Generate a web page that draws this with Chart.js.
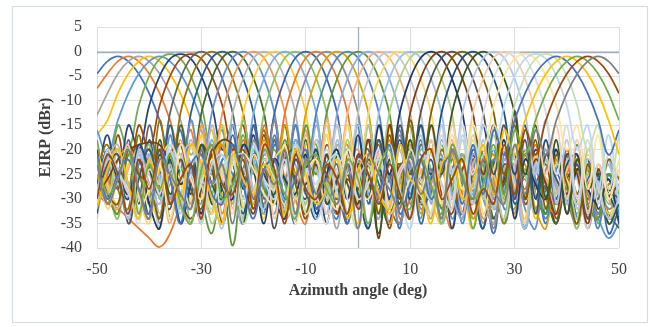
<!DOCTYPE html>
<html>
<head>
<meta charset="utf-8">
<script src="https://cdn.jsdelivr.net/npm/chart.js@4"></script>
<style>
  html, body { margin: 0; padding: 0; background: #fff; }
  #wrap { width: 652px; height: 327px; }
</style>
</head>
<body>
<div id="wrap"><canvas id="myChart" width="652" height="327"></canvas></div>
<script>
// Azimuth sample points (deg)
var angles = [-50,-48,-46,-44,-42,-40,-38,-36,-34,-32,-30,-28,-26,-24,-22,-20,-18,-16,-14,-12,-10,-8,-6,-4,-2,0,2,4,6,8,10,12,14,16,18,20,22,24,26,28,30,32,34,36,38,40,42,44,46,48,50];
var xTicks = [-50, -30, -10, 10, 30, 50];

// EIRP (dBr) of each steered beam
var b00 = [-4.5,-2,-1,-2,-4.5,-8.5,-14,-21,-16,-29,-19,-31,-22,-21,-30,-24,-33,-19,-26,-35,-22,-20,-29,-34,-23,-27,-18,-31,-25,-36,-21,-24,-30,-20,-28,-33,-22,-26,-37,-24,-23,-31,-27,-35,-25,-29,-22,-34,-30,-26,-32];
var b01 = [-7.5,-4.5,-2,-1,-2,-4.5,-8.5,-14,-21,-16,-29,-19,-33,-20,-26,-23,-31,-18,-22,-30,-35,-21,-27,-24,-19,-32,-25,-28,-21,-34,-30,-23,-20,-29,-36,-24,-27,-22,-31,-25,-33,-21,-28,-26,-35,-23,-30,-27,-24,-34,-29];
var b02 = [-13,-8.5,-4.5,-2,-1,-2,-4.5,-8.5,-14,-21,-16,-29,-19,-30,-24,-19,-27,-33,-21,-23,-31,-20,-26,-36,-22,-29,-18,-25,-32,-28,-21,-24,-34,-20,-27,-30,-23,-35,-22,-26,-29,-24,-33,-21,-28,-31,-25,-36,-27,-23,-30];
var b03 = [-17,-14,-8.5,-4.5,-2,-1,-2,-4.5,-8.5,-14,-21,-16,-29,-19,-32,-22,-20,-28,-25,-34,-19,-24,-30,-21,-27,-35,-23,-18,-26,-31,-22,-29,-33,-20,-25,-28,-36,-24,-21,-30,-27,-23,-34,-26,-29,-22,-32,-28,-25,-35,-31];
var b04 = [-16,-21,-14,-8.5,-4.5,-2,-1,-2,-4.5,-8.5,-14,-21,-16,-29,-19,-31,-21,-25,-29,-19,-23,-33,-27,-20,-30,-24,-36,-22,-26,-28,-19,-32,-25,-21,-34,-27,-23,-30,-35,-22,-26,-29,-24,-33,-21,-27,-31,-30,-34,-38,-35];
var b05 = [-18,-28,-15,-20,-11,-5,-1.5,-0.5,-1.5,-5,-11,-20,-15,-28,-17,-30,-24,-20,-27,-33,-21,-19,-29,-25,-35,-22,-28,-18,-31,-26,-23,-34,-20,-27,-30,-22,-36,-25,-21,-29,-32,-24,-28,-20,-33,-26,-30,-23,-35,-27,-29];
var b06 = [-27,-17,-28,-15,-20,-11,-5,-1.5,-0.5,-1.5,-5,-11,-20,-15,-28,-17,-32,-22,-19,-26,-30,-23,-35,-21,-25,-28,-18,-24,-33,-27,-20,-31,-29,-22,-36,-24,-21,-28,-34,-26,-23,-30,-20,-27,-35,-25,-29,-22,-32,-28,-33];
var b07 = [-21,-30,-17,-28,-15,-20,-11,-5,-1.5,-0.5,-1.5,-5,-11,-20,-15,-28,-17,-31,-20,-25,-34,-22,-28,-19,-24,-32,-27,-21,-36,-23,-26,-30,-20,-29,-33,-24,-22,-28,-35,-25,-21,-31,-27,-23,-34,-26,-30,-22,-29,-33,-31];
var b08 = [-20,-26,-32,-18,-30,-15,-25,-12.5,-5.5,-1.3,0,-1.3,-5.5,-12.5,-25,-15,-30,-18,-33,-21,-24,-29,-19,-27,-35,-22,-20,-30,-26,-23,-34,-19,-28,-31,-24,-21,-27,-36,-22,-25,-30,-20,-29,-33,-23,-27,-21,-32,-28,-25,-31];
var b09 = [-24,-19,-28,-32,-17,-31,-14,-26,-12.5,-5.5,-1.3,0,-1.3,-5.5,-12.5,-24,-16,-29,-19,-30,-25,-20,-23,-33,-21,-28,-26,-19,-31,-35,-22,-24,-29,-20,-27,-34,-23,-21,-30,-25,-28,-36,-22,-26,-31,-20,-29,-24,-33,-27,-30];
var b10 = [-27,-20,-24,-19,-31,-18,-29,-15,-26,-12.5,-5.5,-1.3,0,-1.3,-5.5,-12.5,-25,-14,-31,-18,-28,-34,-21,-25,-20,-30,-23,-27,-35,-19,-24,-29,-22,-32,-26,-21,-28,-36,-23,-20,-31,-25,-27,-33,-22,-29,-24,-30,-26,-34,-31];
var b11 = [-22,-30,-26,-19,-24,-33,-18,-30,-15,-25,-12.5,-5.5,-1.3,0,-1.3,-5.5,-12.5,-25,-15,-30,-18,-32,-23,-20,-27,-31,-22,-29,-35,-24,-21,-26,-30,-19,-28,-33,-25,-22,-34,-27,-23,-30,-21,-29,-35,-26,-24,-31,-28,-33,-36];
var b12 = [-31,-25,-21,-28,-20,-23,-34,-17,-30,-14,-25,-12.5,-5.5,-1.3,0,-1.3,-5.5,-12.5,-26,-15,-29,-18,-27,-33,-22,-24,-30,-20,-26,-35,-23,-21,-29,-31,-19,-25,-34,-27,-22,-28,-24,-32,-36,-21,-26,-30,-23,-29,-33,-25,-31];
var b13 = [-21,-26,-33,-20,-24,-29,-22,-31,-18,-31,-15,-25,-12.5,-5.5,-1.3,0,-1.3,-5.5,-12.5,-25,-16,-30,-17,-33,-24,-20,-28,-22,-35,-26,-19,-30,-27,-23,-32,-21,-25,-34,-29,-22,-27,-36,-24,-20,-31,-28,-25,-33,-23,-30,-34];
var b14 = [-28,-22,-19,-30,-25,-21,-33,-23,-29,-18,-30,-15,-25,-12.5,-5.5,-1.3,0,-1.3,-5.5,-12.5,-25,-14,-31,-19,-30,-21,-26,-34,-23,-20,-29,-27,-33,-22,-25,-31,-19,-28,-35,-24,-22,-30,-26,-32,-21,-27,-36,-25,-29,-23,-33];
var b15 = [-20,-27,-31,-23,-21,-29,-34,-22,-26,-32,-17,-29,-15,-26,-12.5,-5.5,-1.3,0,-1.3,-5.5,-12.5,-25,-15,-30,-18,-31,-25,-21,-33,-28,-20,-24,-30,-35,-22,-27,-19,-29,-32,-23,-26,-34,-21,-28,-30,-24,-22,-31,-27,-33,-29];
var b16 = [-32,-24,-20,-27,-33,-21,-25,-30,-19,-23,-31,-18,-30,-15,-25,-12.5,-5.5,-1.3,0,-1.3,-5.5,-12.5,-25,-15,-30,-18,-29,-34,-22,-20,-27,-31,-24,-35,-21,-26,-29,-19,-32,-28,-23,-36,-25,-22,-30,-27,-33,-24,-29,-35,-33];
var b17 = [-23,-28,-34,-21,-25,-19,-30,-27,-22,-35,-24,-29,-18,-31,-14,-25,-12.5,-5.5,-1.3,0,-1.3,-5.5,-12.5,-26,-15,-29,-18,-33,-22,-26,-30,-20,-24,-35,-28,-21,-31,-23,-27,-34,-19,-25,-29,-32,-22,-28,-36,-24,-26,-31,-29];
var b18 = [-29,-21,-25,-33,-20,-27,-31,-23,-19,-28,-34,-22,-30,-17,-30,-15,-25,-12.5,-5.5,-1.3,0,-1.3,-5.5,-12.5,-25,-15,-31,-18,-30,-24,-21,-35,-26,-22,-29,-33,-20,-27,-31,-23,-25,-36,-22,-28,-30,-21,-34,-26,-24,-37,-32];
var b19 = [-29,-31,-32,-34,-36,-38,-39.8,-37,-31,-26,-21,-25,-19,-32,-18,-30,-15,-25,-12.5,-5.5,-1.3,0,-1.3,-5.5,-12.5,-25,-15,-30,-18,-32,-21,-27,-24,-34,-20,-29,-31,-22,-26,-35,-23,-28,-19,-30,-33,-25,-22,-29,-34,-27,-31];
var b20 = [-33,-24,-20,-27,-30,-22,-35,-25,-21,-29,-26,-19,-31,-23,-34,-18,-29,-14,-26,-12.5,-5.5,-1.3,0,-1.3,-5.5,-12.5,-25,-15,-30,-17,-31,-22,-28,-25,-20,-33,-27,-23,-36,-21,-29,-26,-32,-24,-20,-30,-35,-23,-27,-32,-30];
var b21 = [-25,-31,-22,-20,-28,-33,-24,-21,-30,-27,-35,-22,-19,-29,-26,-31,-18,-30,-15,-25,-12.5,-5.5,-1.3,0,-1.3,-5.5,-12.5,-25,-15,-30,-18,-33,-20,-24,-29,-22,-34,-27,-21,-30,-25,-23,-32,-36,-22,-28,-24,-31,-26,-29,-27];
var b22 = [-30,-21,-26,-34,-23,-20,-29,-31,-24,-19,-27,-33,-22,-25,-30,-20,-32,-17,-31,-15,-25,-12.5,-5.5,-1.3,0,-1.3,-5.5,-12.5,-25,-16,-29,-18,-30,-25,-21,-35,-23,-27,-20,-32,-29,-22,-26,-34,-24,-21,-31,-28,-36,-25,-33];
var b23 = [-22,-29,-33,-21,-25,-30,-20,-34,-26,-23,-30,-37,-27,-39.5,-24,-20,-28,-31,-18,-30,-15,-25,-12.5,-5.5,-1.3,0,-1.3,-5.5,-12.5,-25,-15,-30,-18,-32,-22,-27,-30,-20,-24,-35,-26,-21,-29,-33,-23,-28,-19,-31,-34,-25,-29];
var b24 = [-31,-23,-20,-28,-34,-22,-26,-30,-19,-24,-33,-27,-21,-29,-35,-23,-20,-27,-32,-18,-29,-15,-26,-12.5,-5.5,-1.3,0,-1.3,-5.5,-12.5,-24,-15,-31,-18,-29,-34,-21,-25,-30,-22,-28,-36,-24,-20,-27,-31,-23,-33,-26,-22,-31];
var b25 = [-21,-28,-32,-24,-20,-30,-26,-35,-22,-19,-29,-33,-23,-27,-21,-31,-25,-22,-34,-30,-17,-30,-14,-25,-12.5,-5.5,-1.3,0,-1.3,-5.5,-12.5,-25,-15,-30,-18,-33,-23,-20,-28,-31,-24,-35,-21,-26,-29,-22,-30,-34,-25,-28,-26];
var b26 = [-34,-22,-27,-20,-30,-25,-36,-23,-21,-29,-32,-20,-26,-33,-24,-28,-19,-30,-23,-27,-31,-18,-30,-15,-25,-12.5,-5.5,-1.3,0,-1.3,-5.5,-12.5,-25,-15,-30,-18,-31,-21,-25,-34,-23,-20,-29,-27,-33,-22,-26,-36,-24,-30,-28];
var b27 = [-21,-32,-26,-20,-29,-35,-23,-19,-27,-30,-22,-33,-25,-21,-31,-28,-34,-22,-20,-29,-24,-31,-17,-30,-15,-26,-12.5,-5.5,-1.3,0,-1.3,-5.5,-12.5,-25,-14,-31,-18,-33,-24,-20,-27,-35,-22,-29,-23,-26,-31,-21,-28,-34,-27];
var b28 = [-28,-22,-25,-33,-21,-30,-27,-19,-29,-35,-24,-22,-31,-26,-34,-20,-23,-29,-32,-21,-27,-24,-33,-18,-30,-15,-25,-12.5,-5.5,-1.3,0,-1.3,-5.5,-12.5,-25,-15,-30,-18,-32,-20,-26,-36,-23,-29,-21,-31,-25,-34,-27,-23,-32];
var b29 = [-23,-30,-20,-27,-34,-22,-29,-25,-32,-19,-24,-35,-28,-21,-30,-23,-33,-26,-20,-29,-31,-22,-27,-30,-18,-31,-15,-25,-12.5,-5.5,-1.3,0,-1.3,-5.5,-12.5,-26,-15,-30,-17,-31,-21,-25,-33,-22,-29,-27,-34,-20,-26,-30,-28];
var b30 = [-32,-20,-25,-29,-22,-31,-36,-21,-27,-23,-33,-20,-28,-30,-19,-24,-35,-22,-26,-29,-21,-33,-25,-20,-30,-17,-30,-15,-25,-12.5,-5.5,-1.3,0,-1.3,-5.5,-12.5,-25,-15,-29,-18,-34,-22,-27,-30,-20,-33,-24,-28,-31,-26,-35];
var b31 = [-29,-26,-22,-20,-19,-18.5,-19,-23,-30,-34,-28,-21,-18,-19,-25,-33,-22,-27,-31,-20,-24,-29,-21,-33,-26,-31,-18,-38,-15,-25,-12.5,-5.5,-1.3,0,-1.3,-5.5,-12.5,-25,-15,-29,-12,-30,-22,-27,-33,-21,-25,-35,-24,-29,-27];
var b32 = [-30,-23,-21,-35,-26,-20,-28,-32,-22,-29,-19,-24,-34,-27,-21,-30,-25,-36,-22,-20,-29,-31,-23,-27,-33,-21,-30,-18,-30,-15,-25,-12.5,-5.5,-1.3,0,-1.3,-5.5,-12.5,-25,-15,-30,-18,-33,-21,-26,-29,-23,-34,-25,-28,-30];
var b33 = [-22,-29,-31,-20,-25,-27,-34,-21,-19,-28,-32,-23,-35,-26,-20,-29,-24,-31,-19,-27,-33,-22,-25,-30,-21,-28,-23,-33,-17,-30,-14,-26,-12.5,-5.5,-1.3,0,-1.3,-5.5,-12.5,-25,-15,-30,-18,-32,-21,-27,-35,-23,-30,-22,-26];
var b34 = [-33,-21,-26,-30,-19,-24,-29,-22,-35,-27,-20,-31,-28,-23,-33,-21,-25,-30,-34,-22,-27,-20,-31,-26,-23,-29,-36,-24,-30,-18,-30,-15,-25,-12.5,-5.5,-1.3,0,-1.3,-5.5,-12.5,-25,-15,-30,-18,-31,-23,-21,-33,-26,-29,-34];
var b35 = [-20,-31,-25,-22,-28,-34,-21,-29,-24,-32,-19,-27,-30,-23,-35,-21,-26,-29,-20,-33,-24,-22,-31,-28,-34,-23,-26,-37,-22,-31,-18,-30,-15,-25,-12.5,-5.5,-1.3,0,-1.3,-5.5,-12.5,-25,-15,-30,-18,-33,-22,-28,-25,-35,-31];
var b36 = [-29,-22,-24,-34,-20,-27,-31,-23,-33,-19,-26,-29,-36,-22,-21,-28,-32,-25,-30,-19,-24,-34,-28,-21,-33,-26,-23,-29,-31,-20,-28,-17,-30,-15,-25,-12.5,-5.5,-1.3,0,-1.3,-5.5,-12.5,-25,-14,-31,-18,-32,-22,-27,-34,-30];
var b37 = [-21,-30,-26,-19,-33,-24,-28,-20,-31,-35,-22,-27,-25,-32,-21,-29,-19,-34,-23,-30,-26,-22,-33,-28,-20,-25,-35,-21,-31,-24,-22,-29,-18,-30,-15,-25,-12.5,-5.5,-1.3,0,-1.3,-5.5,-12.5,-25,-15,-30,-18,-33,-23,-29,-24];
var b38 = [-31,-20,-25,-28,-35,-22,-29,-19,-24,-32,-27,-20,-34,-23,-30,-21,-26,-28,-19,-33,-22,-29,-35,-24,-21,-30,-27,-20,-32,-25,-22,-29,-33,-17,-31,-15,-25,-12.5,-5.5,-1.3,0,-1.3,-5.5,-12.5,-25,-15,-30,-18,-31,-21,-28];
var b39 = [-22,-29,-25,-20,-32,-28,-23,-34,-19,-26,-30,-22,-27,-33,-21,-24,-29,-31,-19,-35,-25,-22,-28,-32,-20,-27,-30,-23,-21,-33,-26,-29,-20,-31,-17,-28,-15,-20,-11,-5,-1.5,-0.5,-1.5,-5,-11,-20,-15,-28,-17,-30,-22];
var b40 = [-30,-21,-24,-29,-33,-22,-27,-20,-31,-25,-35,-23,-21,-28,-32,-19,-26,-30,-22,-34,-24,-27,-20,-29,-33,-22,-25,-31,-19,-28,-36,-23,-21,-27,-32,-17,-28,-15,-20,-11,-5,-1.5,-0.5,-1.5,-5,-11,-20,-15,-28,-17,-31];
var b41 = [-23,-31,-26,-20,-28,-34,-22,-25,-30,-19,-27,-32,-24,-21,-35,-29,-22,-26,-31,-19,-33,-28,-23,-21,-30,-36,-25,-22,-28,-32,-20,-26,-30,-19,-24,-30,-17,-28,-15,-20,-11,-5,-1.5,-0.5,-1.5,-5,-11,-20,-15,-28,-17];
var b42 = [-21,-30,-25,-22,-28,-33,-20,-26,-35,-23,-21,-29,-31,-19,-27,-34,-24,-22,-30,-26,-20,-32,-28,-23,-35,-21,-25,-29,-19,-33,-27,-22,-30,-24,-21,-31,-19,-29,-16,-21,-14,-8.5,-4.5,-2,-1,-2,-4.5,-8.5,-14,-21,-16];
var b43 = [-32,-24,-20,-27,-34,-22,-28,-25,-31,-19,-23,-30,-35,-21,-26,-29,-23,-27,-33,-20,-25,-31,-28,-22,-34,-24,-21,-29,-32,-19,-26,-28,-35,-23,-21,-30,-27,-19,-29,-16,-21,-14,-8.5,-4.5,-2,-1,-2,-4.5,-8.5,-14,-21];
var b44 = [-22,-29,-26,-20,-33,-23,-28,-21,-31,-35,-24,-19,-30,-27,-22,-32,-20,-25,-29,-34,-23,-21,-28,-31,-22,-26,-35,-24,-20,-29,-32,-22,-27,-33,-19,-25,-30,-27,-19,-29,-16,-21,-14,-8.5,-4.5,-2,-1,-2,-4.5,-8.5,-14];
var b45 = [-30,-21,-25,-33,-22,-28,-20,-31,-26,-23,-34,-20,-27,-29,-22,-32,-19,-24,-35,-21,-28,-30,-23,-26,-33,-21,-25,-31,-23,-29,-34,-22,-20,-30,-26,-22,-33,-28,-31,-19,-29,-16,-21,-14,-8.5,-4.5,-2,-1,-2,-4.5,-8.5];
var b46 = [-23,-31,-26,-20,-28,-34,-22,-25,-29,-32,-20,-27,-23,-35,-21,-30,-24,-27,-20,-33,-22,-29,-26,-31,-23,-36,-21,-25,-28,-32,-21,-29,-24,-34,-20,-26,-30,-22,-28,-31,-19,-29,-16,-21,-14,-8.5,-4.5,-2,-1,-2,-4.5];

var beams = [b00,b01,b02,b03,b04,b05,b06,b07,b08,b09,b10,b11,b12,b13,b14,b15,b16,b17,b18,b19,
             b20,b21,b22,b23,b24,b25,b26,b27,b28,b29,b30,b31,b32,b33,b34,b35,b36,b37,b38,b39,
             b40,b41,b42,b43,b44,b45,b46];

// Excel-style series colours
var beamColors = [
  "#4472C4", "#ED7D31", "#A5A5A5", "#FFC000", "#5B9BD5", "#70AD47",
  "#264478", "#9E480E", "#636363", "#997300", "#255E91", "#43682B",
  "#698ED0", "#F1975A", "#B7B7B7", "#FFCD33", "#7CAFDD", "#8CC168",
  "#3B64AD", "#E8782E", "#8C8C8C", "#D9A300", "#4A87C4", "#5E9638",
  "#8FAADC", "#F4B183", "#C9C9C9", "#FFD966", "#9DC3E6", "#A9D18E",
  "#203864", "#843C0C", "#525252", "#7F6000", "#1F4E79", "#385723",
  "#B4C7E7", "#F8CBAD", "#DBDBDB", "#FFE699", "#BDD7EE", "#C5E0B4",
  "#4472C4", "#FFC000", "#70AD47", "#9E480E", "#7F7F7F"
];

var gridColor = "#D9DEE6";
var textColor = "#404040";
var tickFont = { family: "'Liberation Serif', 'Times New Roman', serif", size: 16 };
var titleFont = { family: "'Liberation Serif', 'Times New Roman', serif", size: 16, weight: "bold" };

// chart frame and the zero axes
var framePlugin = {
  id: "frame",
  beforeDraw: function (chart) {
    var c = chart.ctx;
    c.save();
    c.fillStyle = "#fff";
    c.fillRect(0, 0, chart.width, chart.height);
    c.strokeStyle = "#D6DCE4";
    c.lineWidth = 1.2;
    c.strokeRect(12.5, 6.5, 635, 316);
    c.restore();
  },
  beforeDatasetsDraw: function (chart) {
    var c = chart.ctx, a = chart.chartArea;
    var x0 = Math.round(chart.scales.x.getPixelForValue(0)) + 0.5;
    var y0 = Math.round(chart.scales.y.getPixelForValue(0)) + 0.5;
    c.save();
    c.strokeStyle = "#A3AEBF";
    c.lineWidth = 1.3;
    c.beginPath();
    c.moveTo(x0, a.top);
    c.lineTo(x0, a.bottom);
    c.moveTo(a.left, y0);
    c.lineTo(a.right, y0);
    c.stroke();
    c.restore();
  }
};

var datasets = beams.map(function (vals, k) {
  return {
    data: vals.map(function (v, i) { return { x: angles[i], y: v }; }),
    borderColor: beamColors[k],
    borderWidth: 1.75,
    pointRadius: 0,
    tension: 0.4,
    fill: false,
    order: beams.length - k
  };
});

var ctx = document.getElementById("myChart").getContext("2d");
new Chart(ctx, {
  type: "line",
  data: { datasets: datasets },
  options: {
    responsive: false,
    animation: false,
    layout: { padding: { top: 27, right: 33, bottom: 0, left: 0 } },
    plugins: {
      legend: { display: false },
      tooltip: { enabled: false }
    },
    scales: {
      x: {
        type: "linear",
        min: -50,
        max: 50,
        afterBuildTicks: function (axis) {
          axis.ticks = xTicks.map(function (v) { return { value: v }; });
        },
        afterFit: function (axis) { axis.height = 79; },
        grid: { color: gridColor, drawTicks: false },
        border: { display: false },
        ticks: { padding: 12, font: tickFont, color: textColor, maxRotation: 0, autoSkip: false },
        title: {
          display: true,
          text: "Azimuth angle (deg)",
          font: titleFont,
          color: textColor,
          padding: { top: 0, bottom: 27 }
        }
      },
      y: {
        min: -40,
        max: 5,
        afterFit: function (axis) { axis.width = 97; },
        grid: { color: gridColor, drawTicks: false },
        border: { display: false },
        ticks: { stepSize: 5, padding: 15, font: tickFont, color: textColor },
        title: {
          display: true,
          text: "EIRP (dBr)",
          font: titleFont,
          color: textColor,
          padding: { top: 36, bottom: 0 }
        }
      }
    }
  },
  plugins: [framePlugin]
});
</script>
</body>
</html>
